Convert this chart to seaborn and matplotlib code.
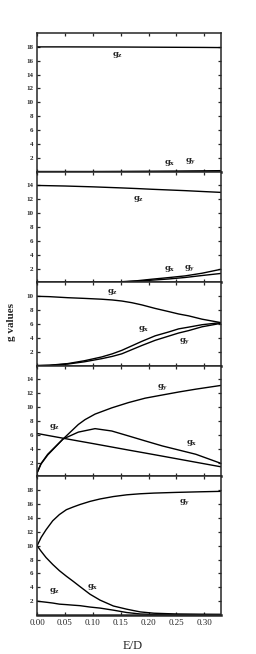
import matplotlib
matplotlib.use("Agg")
import matplotlib.pyplot as plt
import seaborn as sns
import pandas as pd

# ---------------- data ----------------
# Panel 1
ed1 = [0.00, 0.05, 0.10, 0.15, 0.20, 0.25, 0.30, 0.33]
gz1 = [18.0, 18.0, 17.99, 17.98, 17.96, 17.94, 17.92, 17.9]
gx1 = [0.0, 0.0, 0.0, 0.01, 0.02, 0.04, 0.07, 0.1]
gy1 = [0.0, 0.0, 0.0, 0.01, 0.03, 0.05, 0.09, 0.14]

# Panel 2
ed2 = [0.00, 0.05, 0.10, 0.15, 0.18, 0.206, 0.236, 0.266, 0.296, 0.33]
gz2 = [14.0, 13.92, 13.8, 13.65, 13.55, 13.45, 13.35, 13.25, 13.13, 13.0]
gx2 = [0.0, 0.0, 0.02, 0.1, 0.25, 0.47, 0.7, 0.95, 1.33, 1.9]
gy2 = [0.0, 0.0, 0.01, 0.07, 0.18, 0.33, 0.5, 0.72, 1.0, 1.3]

# Panel 3
ed3 = [0.00, 0.022, 0.055, 0.085, 0.116, 0.135, 0.152, 0.17, 0.188, 0.212, 0.236, 0.254, 0.272, 0.296, 0.33]
gz3 = [10.0, 9.95, 9.8, 9.7, 9.58, 9.47, 9.32, 9.08, 8.76, 8.25, 7.8, 7.45, 7.18, 6.7, 6.2]
gx3 = [0.0, 0.05, 0.29, 0.7, 1.25, 1.7, 2.2, 2.85, 3.5, 4.3, 4.85, 5.3, 5.55, 5.9, 6.2]
gy3 = [0.0, 0.04, 0.22, 0.55, 1.0, 1.33, 1.7, 2.3, 2.9, 3.65, 4.25, 4.7, 5.05, 5.6, 6.1]

# Panel 4
ed4 = [0.000, 0.007, 0.019, 0.0465, 0.074, 0.086, 0.104, 0.134, 0.164, 0.194, 0.225, 0.255, 0.285, 0.331]
gy4 = [0.56, 1.85, 3.2, 5.4, 7.5, 8.2, 9.0, 9.9, 10.66, 11.3, 11.76, 12.2, 12.6, 13.15]
gx4 = [0.5, 1.8, 3.1, 5.4, 6.4, 6.6, 6.9, 6.56, 5.85, 5.13, 4.4, 3.8, 3.2, 1.86]
gz4 = [6.2, 6.1, 5.92, 5.52, 5.12, 4.95, 4.69, 4.25, 3.81, 3.38, 2.93, 2.49, 2.05, 1.38]

# Panel 5
ed5 = [0.000, 0.0072, 0.016, 0.028, 0.040, 0.0525, 0.065, 0.077, 0.095, 0.113, 0.137, 0.161, 0.185, 0.21, 0.25, 0.29, 0.33]
gy5 = [10.0, 11.2, 12.3, 13.6, 14.5, 15.2, 15.6, 15.95, 16.4, 16.75, 17.1, 17.35, 17.5, 17.6, 17.7, 17.78, 17.85]
gx5 = [10.0, 9.2, 8.3, 7.3, 6.4, 5.6, 4.85, 4.1, 3.0, 2.15, 1.3, 0.84, 0.45, 0.26, 0.15, 0.12, 0.1]
gz5 = [2.0, 1.93, 1.85, 1.73, 1.57, 1.5, 1.42, 1.35, 1.15, 1.0, 0.7, 0.36, 0.15, 0.08, 0.06, 0.05, 0.05]

panel_ylims = [20, 16, 12, 16, 20]
panel_yticks = [list(range(2, 19, 2)), list(range(2, 15, 2)), list(range(2, 11, 2)),
                list(range(2, 15, 2)), list(range(2, 19, 2))]
xtick_vals = [0.00, 0.05, 0.10, 0.15, 0.20, 0.25, 0.30]
xtick_labels = ["0.00", "0.05", "0.10", "0.15", "0.20", "0.25", "0.30"]

# curve labels: (text, x, y)
labels = [
    [("z", 0.134, 16.8), ("x", 0.228, 1.2), ("y", 0.266, 1.5)],
    [("z", 0.173, 12.1), ("x", 0.227, 1.9), ("y", 0.263, 2.1)],
    [("z", 0.126, 10.6), ("x", 0.182, 5.3), ("y", 0.254, 3.6)],
    [("z", 0.022, 7.2), ("y", 0.216, 12.9), ("x", 0.267, 4.8)],
    [("y", 0.255, 16.3), ("x", 0.089, 4.0), ("z", 0.022, 3.4)],
]

panels = [
    (ed1, [gz1, gx1, gy1]),
    (ed2, [gz2, gx2, gy2]),
    (ed3, [gz3, gx3, gy3]),
    (ed4, [gy4, gx4, gz4]),
    (ed5, [gy5, gx5, gz5]),
]

# ---------------- plotting ----------------
sns.set_style("ticks")
plt.rcParams["font.family"] = ["Liberation Serif", "DejaVu Serif"]
plt.rcParams["mathtext.fontset"] = "dejavuserif"

fig = plt.figure(figsize=(2.56, 6.54), dpi=100)
gs = fig.add_gridspec(5, 1, height_ratios=panel_ylims, hspace=0,
                      left=0.145, right=0.863, top=0.9495, bottom=0.0596)

for i, (ed, series) in enumerate(panels):
    ax = fig.add_subplot(gs[i])
    for s in series:
        df = pd.DataFrame({"E/D": ed, "g": s})
        sns.lineplot(data=df, x="E/D", y="g", ax=ax, color="black",
                     linewidth=1.0, estimator=None, sort=False)
    ax.set_xlim(0, 0.33)
    ax.set_ylim(0, panel_ylims[i])
    ax.set_yticks(panel_yticks[i])
    ax.set_yticklabels([str(v) for v in panel_yticks[i]], fontsize=5,
                       fontweight="bold")
    ax.set_xticks(xtick_vals)
    if i == 4:
        ax.set_xticklabels(xtick_labels, fontsize=6.5)
    else:
        ax.set_xticklabels([])
    ax.tick_params(direction="in", length=2.5, width=0.9, top=True, right=True,
                   pad=3)
    for sp in ax.spines.values():
        sp.set_linewidth(1.1)
        sp.set_visible(True)
    ax.spines["bottom"].set_linewidth(1.8)
    ax.set_xlabel("")
    ax.set_ylabel("")
    for sub, x, y in labels[i]:
        ax.text(x, y, r"$\mathbf{g_%s}$" % sub, fontsize=6,
                ha="left", va="center")

fig.text(0.52, 1 - 646 / 654, "E/D", ha="center", va="center", fontsize=9)
fig.text(12 / 256, 1 - 322 / 654, "g values", rotation=90, ha="center",
         va="center", fontsize=8, fontweight="bold")

fig.savefig("out.png", dpi=100)
